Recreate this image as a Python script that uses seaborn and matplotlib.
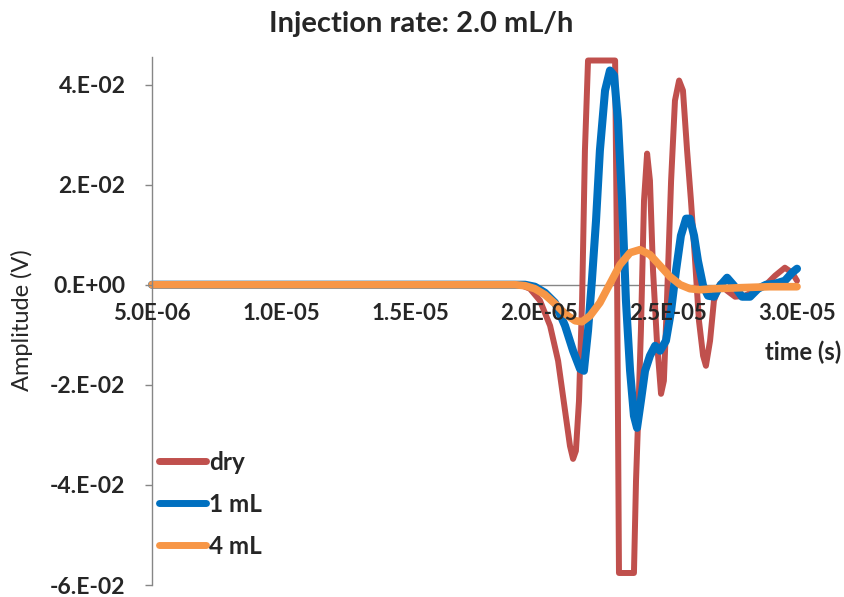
import numpy as np
import pandas as pd
import matplotlib
matplotlib.use("Agg")
import matplotlib.pyplot as plt
import seaborn as sns

# ---- data (time in microseconds, amplitude in volts) ----
dry_t = [5.0, 19.26, 19.65, 20.04, 20.43, 20.74, 21.01, 21.20, 21.32, 21.43, 21.55, 21.67,
         21.78, 21.90, 22.95, 23.02, 23.10, 23.68, 23.76, 23.84, 23.95, 24.07, 24.19, 24.30,
         24.42, 24.57, 24.73, 24.84, 24.96, 25.12, 25.27, 25.43, 25.58, 25.74, 25.89, 26.05,
         26.20, 26.36, 26.47, 26.63, 26.78, 27.02, 27.29, 27.60, 27.98, 28.37, 28.76, 29.15,
         29.53, 29.81, 30.0]
dry_v = [0.0, 0.0, -0.0008, -0.0032, -0.0082, -0.0152, -0.0252, -0.0322, -0.0348, -0.0332,
         -0.0232, -0.0032, 0.0268, 0.0448, 0.0448, 0.0068, -0.0576, -0.0576, -0.0392, -0.0272,
         -0.0092, 0.0168, 0.0262, 0.0208, 0.0028, -0.0112, -0.0218, -0.0192, -0.0032, 0.0208,
         0.0368, 0.0408, 0.0388, 0.0268, 0.0168, 0.0048, -0.0072, -0.0142, -0.0162, -0.0112,
         -0.0032, 0.0002, -0.0012, -0.0024, -0.0022, -0.0012, -0.0002, 0.0018, 0.0034, 0.0024,
         0.0008]

ml1_t = [5.0, 19.46, 19.84, 20.23, 20.62, 21.01, 21.32, 21.59, 21.74, 21.90, 22.05, 22.21,
         22.36, 22.56, 22.75, 22.91, 23.06, 23.22, 23.37, 23.53, 23.68, 23.80, 23.95, 24.11,
         24.30, 24.50, 24.69, 24.92, 25.12, 25.31, 25.50, 25.70, 25.85, 26.01, 26.16, 26.36,
         26.55, 26.78, 27.02, 27.29, 27.56, 27.87, 28.18, 28.49, 28.80, 29.15, 29.53, 29.81,
         30.0]
ml1_v = [0.0, 0.0, -0.0004, -0.0016, -0.0036, -0.0082, -0.0132, -0.0168, -0.0172, -0.0092,
         0.0008, 0.0128, 0.0268, 0.0388, 0.0428, 0.0418, 0.0328, 0.0168, -0.0032, -0.0172,
         -0.0262, -0.0286, -0.0232, -0.0172, -0.0142, -0.0122, -0.0132, -0.0112, -0.0052,
         0.0028, 0.0098, 0.0132, 0.0132, 0.0098, 0.0048, -0.0002, -0.0022, -0.0024, -0.0002,
         0.0014, -0.0002, -0.0024, -0.0024, -0.0008, 0.0, 0.0002, 0.0008, 0.0024, 0.0032]

ml4_t = [5.0, 19.07, 19.46, 19.84, 20.23, 20.62, 21.01, 21.40, 21.67, 21.98, 22.36, 22.75,
         23.14, 23.53, 23.91, 24.30, 24.69, 25.08, 25.47, 25.85, 26.24, 26.82, 27.79, 28.95,
         30.0]
ml4_v = [0.0, 0.0, -0.0002, -0.0008, -0.0020, -0.0038, -0.0058, -0.0072, -0.0074, -0.0062,
         -0.0036, 0.0002, 0.0040, 0.0064, 0.0070, 0.0060, 0.0038, 0.0016, 0.0, -0.0008,
         -0.0010, -0.0008, -0.0006, -0.0004, -0.0004]

series_names = ["dry", "1 mL", "4 mL"]
x_ticks = [5e-6, 1e-5, 1.5e-5, 2e-5, 2.5e-5, 3e-5]
x_tick_labels = ["5.0E-06", "1.0E-05", "1.5E-05", "2.0E-05", "2.5E-05", "3.0E-05"]
y_ticks = [-0.06, -0.04, -0.02, 0.0, 0.02, 0.04]
y_tick_labels = ["-6.E-02", "-4.E-02", "-2.E-02", "0.E+00", "2.E-02", "4.E-02"]
title_text = "Injection rate: 2.0 mL/h"
x_label = "time (s)"
y_label = "Amplitude (V)"

# ---- style ----
sns.set_theme(style="white")
plt.rcParams["font.family"] = ["Lato", "DejaVu Sans"]

W, H = 845, 597
fig = plt.figure(figsize=(W / 100, H / 100), dpi=100)
fig.patch.set_facecolor("white")
ax = fig.add_axes([152 / W, (H - 585) / H, (797 - 152) / W, (585 - 57) / H])
ax.set_facecolor("white")
ax.set_axisbelow(False)

colors = ["#C0504D", "#0070C0", "#F79646"]
widths = [4.3, 5.8, 5.5]
frames = []
for name, t, v in zip(series_names, [dry_t, ml1_t, ml4_t], [dry_v, ml1_v, ml4_v]):
    frames.append(pd.DataFrame({"time": np.array(t) * 1e-6, "amp": v, "series": name}))

for df, c, lw in zip(frames, colors, widths):
    sns.lineplot(data=df, x="time", y="amp", ax=ax, color=c, linewidth=lw,
                 estimator=None, sort=False, label=df["series"].iloc[0],
                 solid_capstyle="round", solid_joinstyle="round", clip_on=False, zorder=2)

ax.set_xlim(5e-6, 3e-5)
ax.set_ylim(-0.06, 0.0455)

for s in ["top", "right"]:
    ax.spines[s].set_visible(False)
ax.spines["left"].set_color("#868686")
ax.spines["left"].set_linewidth(1.0)
ax.spines["bottom"].set_position(("data", 0))
ax.spines["bottom"].set_color("#868686")
ax.spines["bottom"].set_linewidth(1.0)
ax.spines["bottom"].set_zorder(1)

ax.set_xticks(x_ticks)
ax.set_xticklabels(x_tick_labels, fontsize=16, fontweight="bold")
ax.set_yticks(y_ticks)
ax.set_yticklabels(y_tick_labels, fontsize=16.5, fontweight="bold")
ax.tick_params(axis="x", length=0, pad=13)
ax.tick_params(axis="y", direction="out", length=5, width=1, color="#868686", pad=14, left=True)
ax.set_xlabel("")
ax.set_ylabel("")

fig.text(421 / W, 1 - 24 / H, title_text, ha="center", va="center",
         fontsize=21, fontweight="bold")
fig.text(841 / W, 1 - 352 / H, x_label, ha="right", va="center",
         fontsize=17, fontweight="bold")
fig.text(22 / W, 1 - 320 / H, y_label, ha="center", va="center",
         fontsize=17, rotation=90)

handles, labels = ax.get_legend_handles_labels()
leg = ax.legend(handles, labels, loc="upper left",
                bbox_to_anchor=(159 / W, 1 - 451 / H), bbox_transform=fig.transFigure,
                frameon=False, fontsize=17.5, borderpad=0, handlelength=1.95,
                handletextpad=0.12, labelspacing=0.78, borderaxespad=0)
for line in leg.get_lines():
    line.set_linewidth(5.0)
    line.set_solid_capstyle("round")
for txt in leg.get_texts():
    txt.set_fontweight("bold")

fig.savefig("out.png", dpi=100, facecolor="white")
